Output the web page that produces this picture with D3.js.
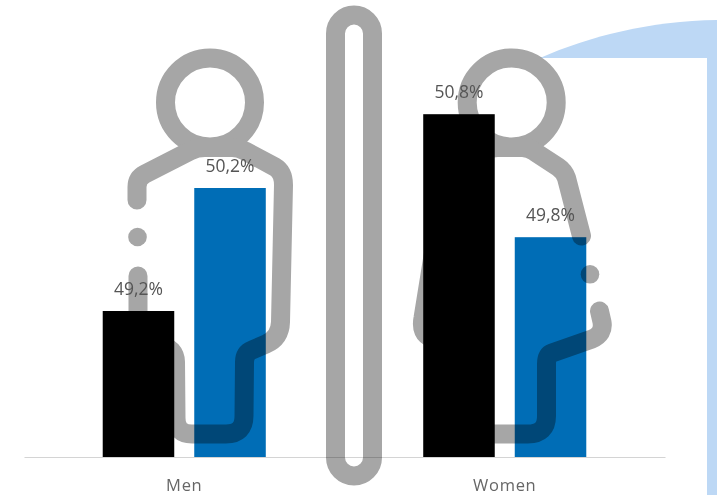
<!DOCTYPE html>
<html>
<head>
<meta charset="utf-8">
<script src="https://cdn.jsdelivr.net/npm/d3@7"></script>
<style>
  html, body { margin: 0; padding: 0; background: #fff; }
  svg { display: block; }
  text { font-family: "Open Sans", sans-serif; }
</style>
</head>
<body>
<svg id="chart" width="717" height="495"></svg>
<script>
// data
const categories = ["Men", "Women"];
const seriesNames = ["Black", "Blue"];
const blackValues = [49.2, 50.8];
const blueValues = [50.2, 49.8];
const seriesColors = ["#000000", "#006db6"];

const svg = d3.select("#chart");

// background shape behind the chart
svg.append("path")
    .attr("d", "M540,58 C590,36 650,21 717,20 L717,495 L540,495 Z")
    .attr("fill", "#bdd8f5");
svg.append("rect")
    .attr("x", 0).attr("y", 58)
    .attr("width", 707).attr("height", 437)
    .attr("fill", "#fff");

// scales
const x0 = d3.scaleBand().domain(categories).range([24, 665]);
const x1 = d3.scaleBand().domain(seriesNames)
    .range([0, x0.bandwidth()])
    .paddingInner(0.2186)
    .paddingOuter(0.86);
const y = d3.scaleLinear().domain([48.013, 51]).range([457, 89.6]);

const format = v => v.toFixed(1).replace(".", ",") + "%";

const rows = [];
categories.forEach((c, i) => {
    rows.push({ category: c, series: seriesNames[0], value: blackValues[i], color: seriesColors[0] });
    rows.push({ category: c, series: seriesNames[1], value: blueValues[i], color: seriesColors[1] });
});

// axis
const axis = svg.append("g")
    .attr("transform", "translate(0,457)")
    .call(d3.axisBottom(x0).tickSize(0).tickPadding(22));
axis.select(".domain").attr("stroke", "#d4d4d4").attr("stroke-width", 1.2);
axis.selectAll("text")
    .attr("font-family", "'Open Sans', sans-serif")
    .attr("font-size", 16.5)
    .attr("letter-spacing", 0.7)
    .attr("fill", "#666");

// bars
svg.append("g").selectAll("rect")
    .data(rows)
    .enter()
    .append("rect")
    .attr("x", d => x0(d.category) + x1(d.series))
    .attr("y", d => y(d.value))
    .attr("width", x1.bandwidth())
    .attr("height", d => y.range()[0] - y(d.value))
    .attr("fill", d => d.color);

// people and divider icons, multiplied over the bars
const icons = svg.append("g")
    .style("mix-blend-mode", "multiply")
    .attr("fill", "none")
    .attr("stroke", "#a6a6a6")
    .attr("stroke-width", 19)
    .attr("stroke-linecap", "round")
    .attr("stroke-linejoin", "round");

icons.append("rect")
    .attr("x", 335.5).attr("y", 15)
    .attr("width", 37).attr("height", 461)
    .attr("rx", 18.5).attr("ry", 18.5);

// man
icons.append("circle").attr("cx", 210).attr("cy", 102.5).attr("r", 44.5);
icons.append("path").attr("d",
    "M137,200 L137,187 Q137,178 145,174 L190,151 Q197,147.5 205,147.5 L232,147.5 Q238,147.5 245,151 L275,167 Q283.5,172 283.5,185 " +
    "L280.5,322 Q280,338 266,344 L252,350 Q244.5,353 244.5,362 L244,416 Q244,434 226,434 L192,434 Q176,434 176,418 L175.5,362 Q175,348 160,345 Q138,340 138,320 L138,276");
icons.append("circle").attr("cx", 137.5).attr("cy", 237).attr("r", 9.3).attr("fill", "#a6a6a6").attr("stroke", "none");

// woman
icons.append("circle").attr("cx", 511.7).attr("cy", 102.5).attr("r", 44.5);
icons.append("path").attr("d",
    "M581.5,236 L566.5,178 Q564,171 558,167 L535,152 Q529,147.5 522,147.5 L498,147.5 Q490,147.5 482,151 L455,167 Q447,172 445,182 " +
    "L423,318 Q420,334 432,338");
icons.append("path").attr("d",
    "M599.5,311 L602,322 Q604,334 592,339 L552,353 Q546.5,355 546.5,364 L546.5,416 Q546.5,434 528,434 L470,434");
icons.append("circle").attr("cx", 590).attr("cy", 274.3).attr("r", 9.3).attr("fill", "#a6a6a6").attr("stroke", "none");

// value labels
svg.append("g").selectAll("text")
    .data(rows)
    .enter()
    .append("text")
    .attr("x", d => x0(d.category) + x1(d.series) + x1.bandwidth() / 2)
    .attr("y", d => y(d.value) - 16)
    .attr("text-anchor", "middle")
    .attr("font-size", 17.5)
    .attr("fill", "#555")
    .text(d => format(d.value));
</script>
</body>
</html>
